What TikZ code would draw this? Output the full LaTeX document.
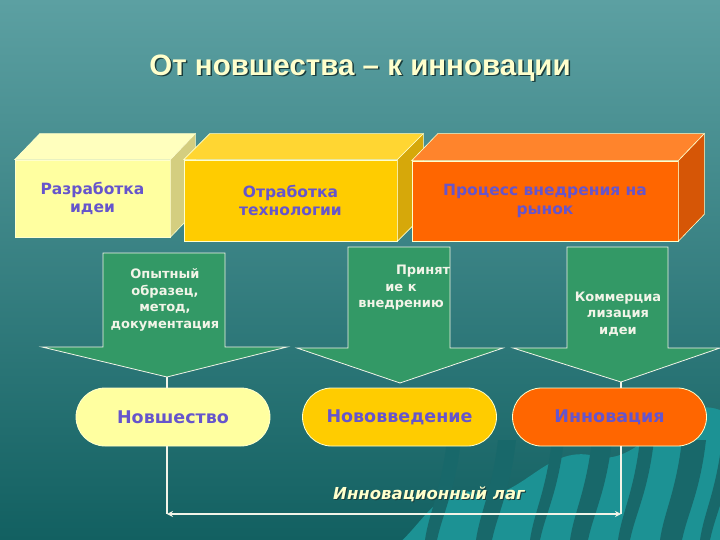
\documentclass[tikz,border=0pt]{standalone}
\usepackage{fontspec}
\setmainfont{DejaVu Sans}
\newfontfamily\titlefont{Liberation Sans}
\usetikzlibrary{arrows.meta}

\definecolor{bgtop}{RGB}{92,160,162}
\definecolor{bgbot}{RGB}{18,96,97}
\definecolor{wave}{RGB}{28,146,148}
\definecolor{gap}{RGB}{24,104,106}
\definecolor{ink}{RGB}{102,85,204}
\definecolor{cream}{RGB}{255,255,204}
\definecolor{shade}{RGB}{25,60,60}
\definecolor{pale}{RGB}{255,255,160}
\definecolor{paletop}{RGB}{255,255,190}
\definecolor{paleside}{RGB}{212,206,128}
\definecolor{gold}{RGB}{255,204,0}
\definecolor{goldtop}{RGB}{255,214,50}
\definecolor{goldside}{RGB}{214,168,10}
\definecolor{orng}{RGB}{255,102,0}
\definecolor{orngtop}{RGB}{255,132,44}
\definecolor{orngside}{RGB}{214,86,6}
\definecolor{leaf}{RGB}{51,153,102}
\definecolor{chalk}{RGB}{242,244,232}

\tikzset{
  front/.style={draw=cream, line width=0.6pt, inner sep=0pt, text=ink,
    align=center, font=\bfseries\fontsize{15.5}{18.5}\selectfont},
  depth/.style={draw=cream, line width=0.6pt},
  blockarrow/.style={fill=leaf, draw=chalk, line width=0.8pt},
  arrowtext/.style={text=chalk, align=center, inner sep=0pt,
    font=\bfseries\fontsize{13}{16.5}\selectfont},
  pill/.style={draw=cream, line width=0.8pt, rounded corners=29pt,
    minimum width=194pt, minimum height=58pt, text=ink,
    font=\bfseries\fontsize{17.5}{20}\selectfont},
  link/.style={draw=chalk, line width=1.6pt},
}

\begin{document}
\begin{tikzpicture}[x=1pt,y=-1pt]
  % background
  \shade[top color=bgtop, bottom color=bgbot] (0,0) rectangle (720,540);
  \useasboundingbox (0,0) rectangle (720,540);
  \fill[wave] (378,540) to[out=-60,in=160] (470,492) to[out=-20,in=170]
    (590,455) to[out=-20,in=160] (720,410) -- (720,540) -- cycle;
  \foreach \x/\w in {425/12,476/16,530/10,570/18,618/12,660/22,700/10}
    \fill[gap] (\x,540) .. controls (\x+4,512) and (\x+16,492) .. (\x+22,440)
      -- (\x+24+\w,440) .. controls (\x+18+\w,492) and (\x+6+\w,512) .. (\x+\w,540) -- cycle;

  % title
  \node[text=shade, font=\titlefont\bfseries\fontsize{29.5}{34}\selectfont]
    (titleshadow) at (361.5,69.5) {От новшества – к инновации};
  \node[text=cream, font=\titlefont\bfseries\fontsize{29.5}{34}\selectfont]
    (title) at (360,68) {От новшества – к инновации};

  % stages
  \node[front, fill=pale, minimum width=155pt, minimum height=77pt]
    (idea) at (92.5,198.5) {Разработка\\идеи};
  \draw[depth, fill=paletop] (idea.north west) -- ++(25,-26)
    -- ([shift={(25,-26)}]idea.north east) -- (idea.north east) -- cycle;
  \draw[depth, fill=paleside] (idea.north east) -- ++(25,-26)
    -- ([shift={(25,-26)}]idea.south east) -- (idea.south east) -- cycle;

  \node[front, fill=gold, minimum width=213pt, minimum height=81pt]
    (tech) at (290.5,200.5) {Отработка\\технологии};
  \draw[depth, fill=goldtop] (tech.north west) -- ++(26,-26)
    -- ([shift={(26,-26)}]tech.north east) -- (tech.north east) -- cycle;
  \draw[depth, fill=goldside] (tech.north east) -- ++(26,-26)
    -- ([shift={(26,-26)}]tech.south east) -- (tech.south east) -- cycle;

  \node[front, fill=orng, minimum width=266pt, minimum height=80pt]
    (market) at (545,201) {Процесс внедрения на\\рынок};
  \draw[depth, fill=orngtop] (market.north west) -- ++(26,-27)
    -- ([shift={(26,-27)}]market.north east) -- (market.north east) -- cycle;
  \draw[depth, fill=orngside] (market.north east) -- ++(26,-27)
    -- ([shift={(26,-27)}]market.south east) -- (market.south east) -- cycle;

  % block arrows
  \draw[blockarrow] (103,253) -- (225,253) -- (225,347) -- (287,347)
    -- (167,377) -- (42,347) -- (103,347) -- cycle;
  \coordinate (tip1) at (167,377);
  \node[arrowtext] (proto) at (165,300) {Опытный\\образец,\\метод,\\документация};

  \draw[blockarrow] (348,247) -- (450,247) -- (450,348) -- (503,348)
    -- (400,383) -- (297,348) -- (348,348) -- cycle;
  \coordinate (tip2) at (400,383);
  \node[arrowtext] (accept) at (401,288) {\hspace*{3.4em}Принят\\ие к\\внедрению};

  \draw[blockarrow] (567,247) -- (668,247) -- (668,348) -- (720,348)
    -- (621,382) -- (513,348) -- (567,348) -- cycle;
  \coordinate (tip3) at (621,382);
  \node[arrowtext] (trade) at (618,314) {Коммерциа\\лизация\\идеи};

  % results
  \node[pill, fill=pale] (novelty) at (173,417) {Новшество};
  \node[pill, fill=gold] (newintro) at (399.5,417) {Нововведение};
  \node[pill, fill=orng] (innov) at (609.5,417) {Инновация};

  % lag
  \coordinate (lagL) at (167,514);
  \coordinate (lagR) at (621,514);
  \draw[link, line width=1.2pt] (tip1) -- (tip1 |- novelty.north);
  \draw[link, line width=1.2pt] (tip3) -- (tip3 |- innov.north);
  \draw[link] (tip1 |- novelty.south) -- (lagL);
  \draw[link] (tip3 |- innov.south) -- (lagR);
  \draw[link, line width=1.4pt, {Stealth[length=6pt,width=6pt]}-{Stealth[length=6pt,width=6pt]}] (lagL) -- (lagR);

  \node[text=shade, font=\bfseries\itshape\fontsize{16.5}{20}\selectfont]
    (lagshadow) at (430,495) {Инновационный лаг};
  \node[text=cream, font=\bfseries\itshape\fontsize{16.5}{20}\selectfont]
    (lag) at (429,494) {Инновационный лаг};
\end{tikzpicture}
\end{document}
